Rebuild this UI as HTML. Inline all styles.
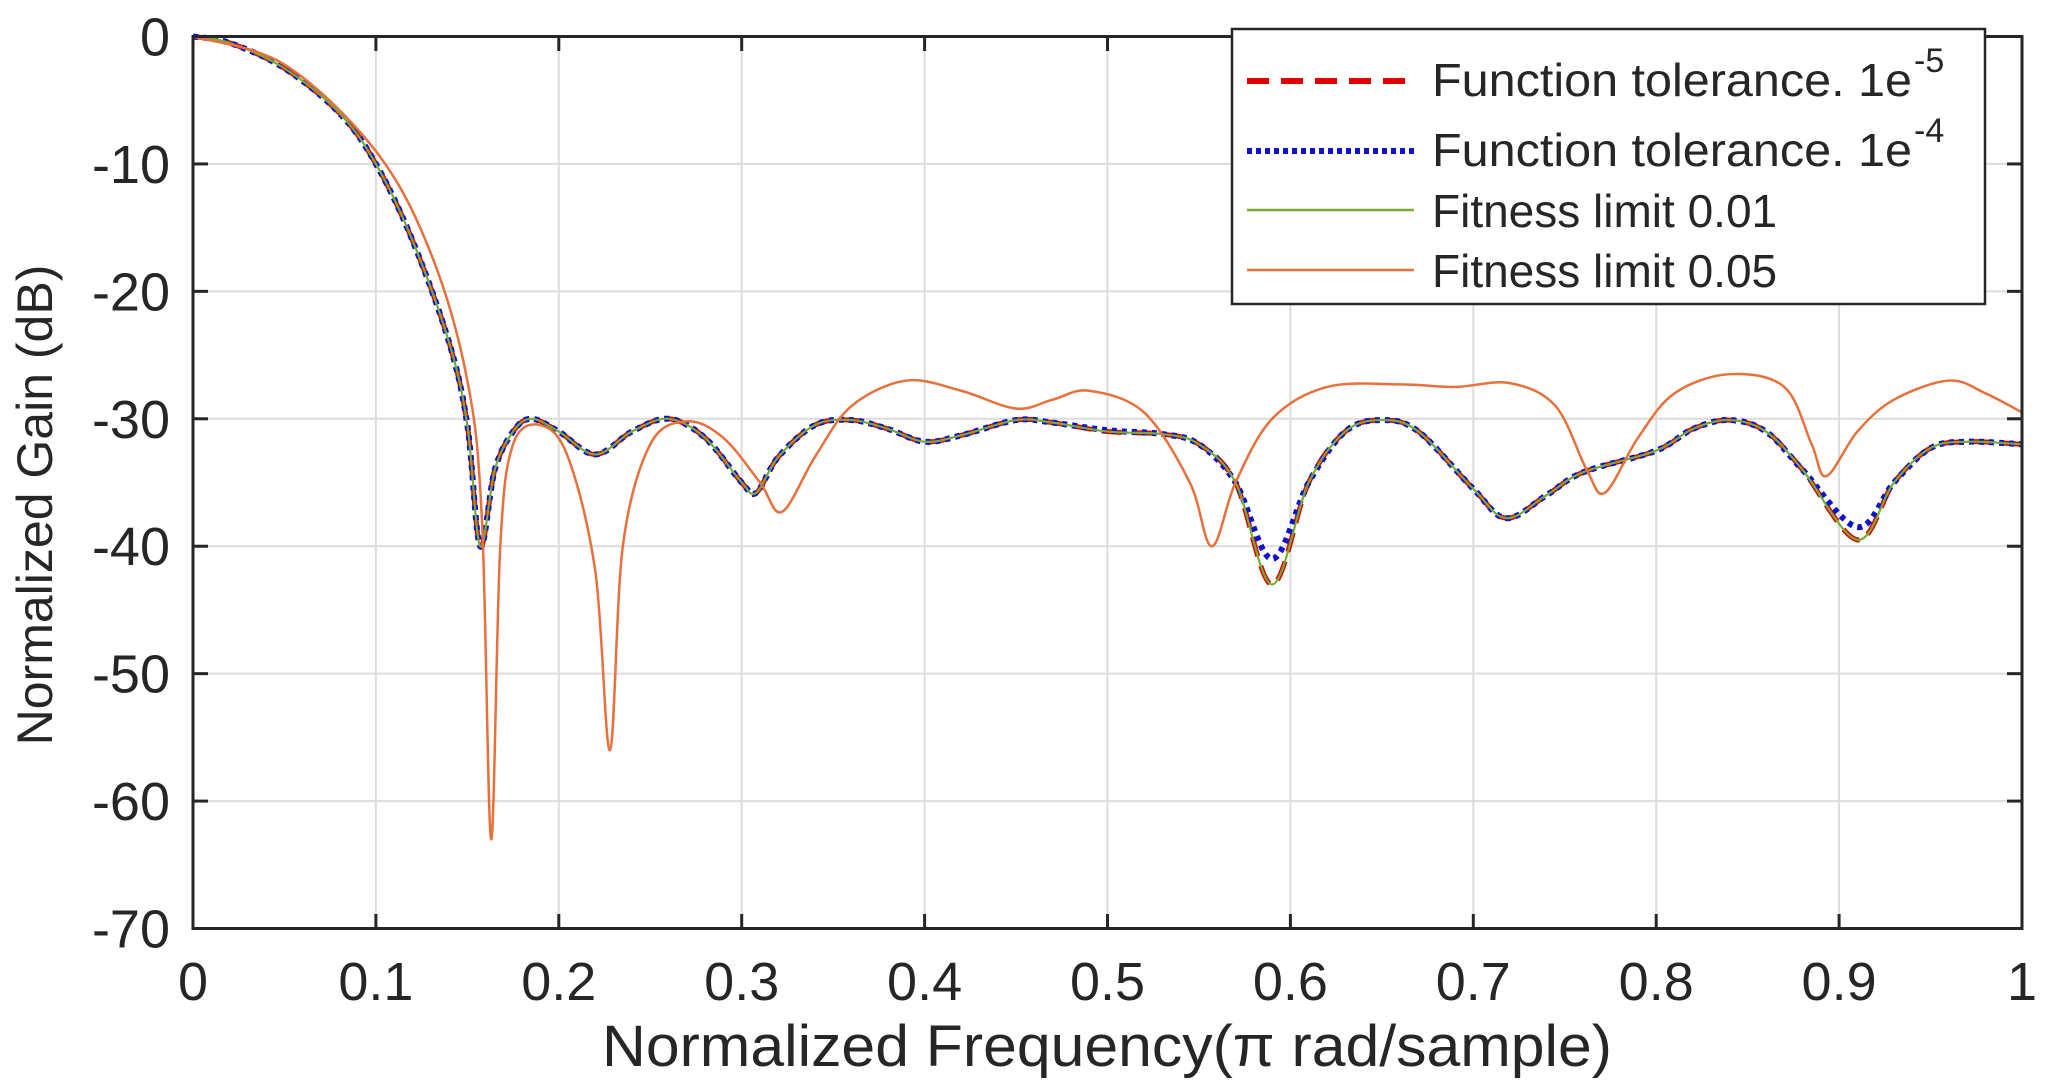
<!DOCTYPE html>
<html><head><meta charset="utf-8"><style>
html,body{margin:0;padding:0;background:#fff;}
svg{display:block;}
text{font-family:"Liberation Sans",Arial,sans-serif;fill:#262626;}
</style></head><body>
<svg id="s" width="2048" height="1091" xmlns="http://www.w3.org/2000/svg">
<g id="grid" stroke="#dcdcdc" stroke-width="2"></g>
<g id="curves" fill="none"></g>
<rect x="193" y="36.5" width="1829" height="892" fill="none" stroke="#262626" stroke-width="3"/>
<g id="ticks" stroke="#262626" stroke-width="3"></g>
<g id="labels" font-size="54"></g>
<text x="1107" y="1066" font-size="58" text-anchor="middle" textLength="1010" lengthAdjust="spacingAndGlyphs">Normalized Frequency(π rad/sample)</text>
<text transform="translate(52,505) rotate(-90)" font-size="50" text-anchor="middle">Normalized Gain (dB)</text>
<g>
<rect x="1232" y="29" width="753" height="275" fill="#fff" stroke="#262626" stroke-width="2.5"/>
<line x1="1247" y1="81" x2="1414" y2="81" stroke="#e00000" stroke-width="6" stroke-dasharray="22 12"/>
<line x1="1247" y1="151" x2="1414" y2="151" stroke="#1010d0" stroke-width="6" stroke-dasharray="5 4"/>
<line x1="1247" y1="210" x2="1414" y2="210" stroke="#77ac30" stroke-width="2.5"/>
<line x1="1247" y1="270" x2="1414" y2="270" stroke="#e8703a" stroke-width="2.5"/>
<text x="1432" y="96" font-size="46" textLength="480" lengthAdjust="spacingAndGlyphs">Function tolerance. 1e</text><text x="1914" y="72" font-size="34">-5</text>
<text x="1432" y="166" font-size="46" textLength="480" lengthAdjust="spacingAndGlyphs">Function tolerance. 1e</text><text x="1914" y="142" font-size="34">-4</text>
<text x="1432" y="227" font-size="46">Fitness limit 0.01</text>
<text x="1432" y="287" font-size="46">Fitness limit 0.05</text>
</g>
</svg>
<script>
const NS="http://www.w3.org/2000/svg";
const X=x=>193+1829*x, Y=d=>36.5-d*12.743;
function el(p,t,a,txt){const e=document.createElementNS(NS,t);for(const k in a)e.setAttribute(k,a[k]);if(txt!==undefined)e.textContent=txt;document.getElementById(p).appendChild(e);return e;}
for(let i=1;i<10;i++){el("grid","line",{x1:X(i/10),y1:36.5,x2:X(i/10),y2:928.5});}
for(let j=1;j<7;j++){el("grid","line",{x1:193,y1:Y(-10*j),x2:2022,y2:Y(-10*j)});}
for(let i=0;i<=10;i++){const x=X(i/10);el("ticks","line",{x1:x,y1:928.5,x2:x,y2:914});el("ticks","line",{x1:x,y1:36.5,x2:x,y2:51});
 el("labels","text",{x:x,y:1000,"text-anchor":"middle"},i==0?"0":i==10?"1":"0."+i);}
for(let j=0;j<=7;j++){const y=Y(-10*j);el("ticks","line",{x1:193,y1:y,x2:208,y2:y});el("ticks","line",{x1:2022,y1:y,x2:2007,y2:y});
 el("labels","text",{x:170,y:y+19,"text-anchor":"end"},j==0?"0":"-"+(10*j));}
function path(pts){let P=pts.map(p=>[X(p[0]),Y(p[1])]);let d="M"+P[0][0]+","+P[0][1];
 for(let i=0;i<P.length-1;i++){const p0=P[Math.max(0,i-1)],p1=P[i],p2=P[i+1],p3=P[Math.min(P.length-1,i+2)];
 const t=6;d+=" C"+(p1[0]+(p2[0]-p0[0])/t)+","+(p1[1]+(p2[1]-p0[1])/t)+" "+(p2[0]-(p3[0]-p1[0])/t)+","+(p2[1]-(p3[1]-p1[1])/t)+" "+p2[0]+","+p2[1];}return d;}
const base=[[0,0],[0.02,-0.5],[0.05,-2.5],[0.08,-6],[0.1,-10],[0.12,-16],[0.14,-24],[0.15,-30.5],[0.157,-40],[0.165,-34],[0.175,-31],[0.185,-30],[0.2,-31],[0.22,-32.8],[0.24,-31],[0.26,-30],[0.28,-31.5],[0.3,-35],[0.308,-35.8],[0.32,-33],[0.34,-30.5],[0.36,-30.1],[0.38,-30.8],[0.4,-31.8],[0.42,-31.3],[0.45,-30.1],[0.47,-30.3],[0.5,-31],[0.53,-31.2],[0.55,-32],[0.57,-35],[0.59,-43],[0.61,-35],[0.63,-31],[0.65,-30.1],[0.67,-31],[0.7,-35.5],[0.718,-37.8],[0.74,-36],[0.76,-34.2],[0.8,-32.5],[0.82,-30.8],[0.84,-30.1],[0.86,-31],[0.88,-34],[0.91,-39.5],[0.93,-35],[0.95,-32.3],[0.97,-31.8],[1,-32]];
const blue=base.map(p=>p[0]==0.59?[0.59,-41]:p[0]==0.91?[0.91,-38.5]:p[0]==0.5?[0.5,-30.9]:p);
const orange=[[0,0],[0.05,-2.2],[0.1,-9],[0.13,-17],[0.15,-27],[0.158,-38],[0.163,-63],[0.168,-40],[0.175,-32],[0.19,-30.5],[0.205,-33],[0.22,-42],[0.228,-56],[0.235,-40],[0.25,-32],[0.27,-30.2],[0.29,-31.5],[0.31,-35],[0.322,-37.3],[0.34,-33],[0.36,-29],[0.39,-27],[0.42,-27.8],[0.45,-29.2],[0.47,-28.5],[0.49,-27.8],[0.52,-29.5],[0.545,-35],[0.557,-40],[0.57,-35],[0.59,-30],[0.62,-27.5],[0.66,-27.3],[0.69,-27.5],[0.72,-27.2],[0.745,-29],[0.762,-34],[0.772,-35.8],[0.79,-31.5],[0.81,-28],[0.84,-26.5],[0.87,-27.5],[0.885,-32],[0.893,-34.5],[0.91,-31],[0.93,-28.5],[0.96,-27],[0.98,-28],[1,-29.5]];
el("curves","path",{d:path(base),stroke:"#e00000","stroke-width":5,"stroke-dasharray":"20 10"});
el("curves","path",{d:path(blue),stroke:"#1010d0","stroke-width":6,"stroke-dasharray":"5 5"});
el("curves","path",{d:path(base),stroke:"#77ac30","stroke-width":2.2});
el("curves","path",{d:path(orange),stroke:"#e8703a","stroke-width":2.5});
</script>
</body></html>
